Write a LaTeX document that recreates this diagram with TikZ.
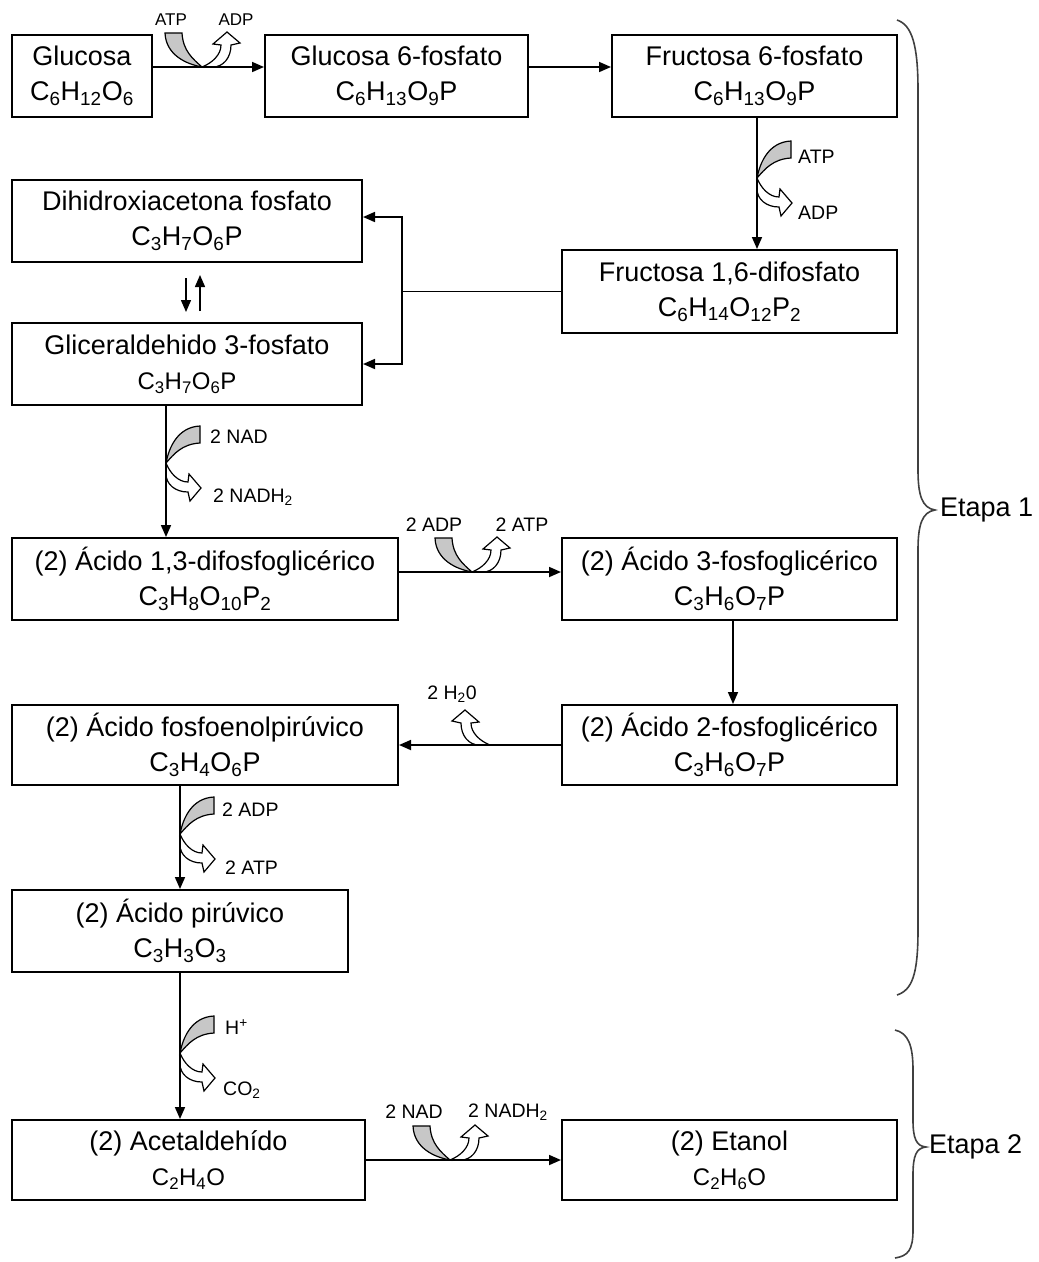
\documentclass[tikz,border=0pt]{standalone}
\usepackage{fontspec}
\setmainfont{Liberation Sans}
\usetikzlibrary{arrows.meta,calc}
\newcommand{\subs}[1]{\textsubscript{#1}}
\begin{document}
\begin{tikzpicture}[x=1pt,y=-1pt,
  >={Triangle[length=12pt,width=10pt]},
  box/.style={draw, line width=2pt, align=center, inner sep=0pt, font=\fontsize{27}{35}\selectfont},
  conn/.style={line width=1.7pt},
  lbl/.style={font=\fontsize{19.5}{20}\selectfont, inner sep=0pt},
  slbl/.style={font=\fontsize{17}{18}\selectfont, inner sep=0pt},
  etl/.style={font=\fontsize{27}{30}\selectfont, inner sep=0pt, anchor=west},
  band/.style={draw, line width=1.2pt, fill=black!22},
  warr/.style={draw, line width=1.2pt, fill=white},
  brc/.style={line width=1.6pt, black!75},
  pics/grayband/.style={code={\path[band] (-37,-34) .. controls (-36,-12) and (-16,-3) .. (0,0) .. controls (-9,-8) and (-19,-16) .. (-20,-34) -- cycle;}},
  pics/whitearr/.style={code={\path[warr] (0,0) .. controls (10,-4) and (19,-12) .. (19,-22) -- (11,-23) -- (25,-35) -- (38,-24) -- (29,-22) .. controls (29,-9) and (21,0) .. (11,0) -- cycle;}}
]
\useasboundingbox (0,0) rectangle (1039,1262);

% boxes
\node[box, minimum width=140pt, minimum height=82pt] (glu) at (82,76) {Glucosa\\C\subs{6}H\subs{12}O\subs{6}};
\node[box, minimum width=263pt, minimum height=82pt] (g6p) at (396.5,76) {Glucosa 6-fosfato\\C\subs{6}H\subs{13}O\subs{9}P};
\node[box, minimum width=285pt, minimum height=82pt] (f6p) at (754.5,76) {Fructosa 6-fosfato\\C\subs{6}H\subs{13}O\subs{9}P};
\node[box, minimum width=350pt, minimum height=82pt] (dhap) at (187,221) {Dihidroxiacetona fosfato\\C\subs{3}H\subs{7}O\subs{6}P};
\node[box, minimum width=335pt, minimum height=83pt] (f16) at (729.5,291.5) {Fructosa 1,6-difosfato\\C\subs{6}H\subs{14}O\subs{12}P\subs{2}};
\node[box, minimum width=350pt, minimum height=82pt] (g3p) at (187,364) {Gliceraldehido 3-fosfato\\{\fontsize{24}{30}\selectfont C\subs{3}H\subs{7}O\subs{6}P}};
\node[box, minimum width=386pt, minimum height=82pt] (dpg) at (205,579) {(2) Ácido 1,3-difosfoglicérico\\C\subs{3}H\subs{8}O\subs{10}P\subs{2}};
\node[box, minimum width=335pt, minimum height=82pt] (pg3) at (729.5,579) {(2) Ácido 3-fosfoglicérico\\C\subs{3}H\subs{6}O\subs{7}P};
\node[box, minimum width=386pt, minimum height=80pt] (pep) at (205,745) {(2) Ácido fosfoenolpirúvico\\C\subs{3}H\subs{4}O\subs{6}P};
\node[box, minimum width=335pt, minimum height=80pt] (pg2) at (729.5,745) {(2) Ácido 2-fosfoglicérico\\C\subs{3}H\subs{6}O\subs{7}P};
\node[box, minimum width=336pt, minimum height=82pt] (pyr) at (180,931) {(2) Ácido pirúvico\\C\subs{3}H\subs{3}O\subs{3}};
\node[box, minimum width=353pt, minimum height=80pt] (acet) at (188.5,1160) {(2) Acetaldehído\\{\fontsize{24}{30}\selectfont C\subs{2}H\subs{4}O}};
\node[box, minimum width=335pt, minimum height=80pt] (eth) at (729.5,1160) {(2) Etanol\\{\fontsize{24}{30}\selectfont C\subs{2}H\subs{6}O}};

% side arrows (drawn first, lines over them)
\pic at (202,67) {grayband};
\pic at (202,67) {whitearr};
\pic[rotate=-90] at (757,178) {grayband};
\pic[rotate=-90] at (757,178) {whitearr};
\pic[rotate=-90] at (166,463) {grayband};
\pic[rotate=-90] at (166,463) {whitearr};
\pic at (472,572) {grayband};
\pic at (472,572) {whitearr};
\pic[xscale=-1] at (490,745) {whitearr};
\pic[rotate=-90] at (180,834) {grayband};
\pic[rotate=-90] at (180,834) {whitearr};
\pic[rotate=-90] at (180,1053) {grayband};
\pic[rotate=-90] at (180,1053) {whitearr};
\pic at (450,1160) {grayband};
\pic at (450,1160) {whitearr};

% connectors
\draw[conn,->] ([yshift=9pt]glu.east) -- ([yshift=9pt]g6p.west);
\draw[conn,->] ([yshift=9pt]g6p.east) -- ([yshift=9pt]f6p.west);
\draw[conn,->] ([xshift=2.5pt]f6p.south) -- ([xshift=2.5pt]f6p.south |- f16.north);
\coordinate (jn) at (f16.west -| 402,0);
\draw[conn] (f16.west) -- (jn);
\draw[conn,->] (jn) |- ([yshift=4pt]dhap.east);
\draw[conn,->] (jn) |- (g3p.east);
\draw[line width=1.5pt,->] ([xshift=-1pt,yshift=-15pt]dhap.south) -- ([xshift=-1pt,yshift=10pt]g3p.north);
\draw[line width=1.5pt,->] ([xshift=13pt,yshift=11pt]g3p.north) -- ([xshift=13pt,yshift=-12pt]dhap.south);
\draw[conn,->] ([xshift=-21pt]g3p.south) -- ([xshift=-21pt]g3p.south |- dpg.north);
\draw[conn,->] ([yshift=7pt]dpg.east) -- ([yshift=7pt]dpg.east -| pg3.west);
\draw[conn,->] ([xshift=3.5pt]pg3.south) -- ([xshift=3.5pt]pg3.south |- pg2.north);
\draw[conn,->] (pg2.west) -- (pep.east);
\draw[conn,->] ([xshift=-25pt]pep.south) -- (pyr.north);
\draw[conn,->] (pyr.south) -- (acet.north -| pyr.south);
\draw[conn,->] (acet.east) -- (eth.west);

% labels
\node[slbl] (la1) at (171,20) {ATP};
\node[slbl] (la2) at (236,20) {ADP};
\node[lbl,anchor=west] (lb1) at (798,157) {ATP};
\node[lbl,anchor=west] (lb2) at (798,213) {ADP};
\node[lbl,anchor=west] (lc1) at (210,437) {2 NAD};
\node[lbl,anchor=west] (lc2) at (213,497) {2 NADH\subs{2}};
\node[lbl] (ld1) at (434,525) {2 ADP};
\node[lbl] (ld2) at (522,525) {2 ATP};
\node[lbl] (le1) at (452,694) {2 H\subs{2}0};
\node[lbl,anchor=west] (lf1) at (222,810) {2 ADP};
\node[lbl,anchor=west] (lf2) at (225,868) {2 ATP};
\node[lbl,anchor=west] (lg1) at (225,1027) {H\textsuperscript{+}};
\node[lbl,anchor=west] (lg2) at (223,1090) {CO\subs{2}};
\node[lbl] (lh1) at (414,1112) {2 NAD};
\node[lbl] (lh2) at (508,1112) {2 NADH\subs{2}};

% braces
\draw[brc] (897,20) .. controls (912,25) and (918,45) .. (918,90) -- (918,470)
  .. controls (918,495) and (922,508) .. (935,510)
  .. controls (922,512) and (918,525) .. (918,550) -- (918,930)
  .. controls (918,975) and (912,990) .. (897,995);
\node[etl] (et1) at (940,510) {Etapa 1};
\draw[brc] (895,1030) .. controls (908,1033) and (913,1045) .. (913,1070) -- (913,1120)
  .. controls (913,1138) and (916,1146) .. (926,1147)
  .. controls (916,1148) and (913,1156) .. (913,1175) -- (913,1230)
  .. controls (913,1250) and (908,1256) .. (895,1258);
\node[etl] (et2) at (929,1147) {Etapa 2};
\end{tikzpicture}
\end{document}
